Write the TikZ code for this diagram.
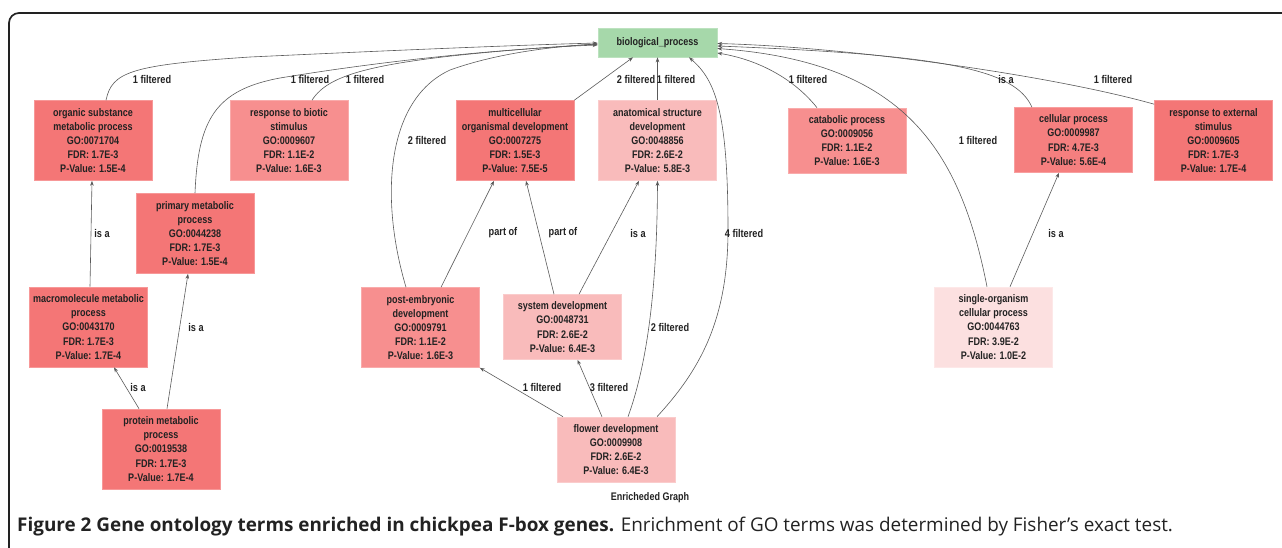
\documentclass[tikz,border=0pt]{standalone}
\usepackage{fontspec}
\setmainfont{Liberation Sans}
\newfontfamily\gofont[FakeStretch=0.82]{Liberation Sans}
\newfontfamily\capfont{Open Sans}
\usetikzlibrary{arrows.meta,calc}
\definecolor{bpgreen}{HTML}{A6D8AA}
\definecolor{redA}{HTML}{F47676}
\definecolor{redB}{HTML}{F57F7F}
\definecolor{redC}{HTML}{F78F8F}
\definecolor{pinkA}{HTML}{F9BBBB}
\definecolor{paleA}{HTML}{FCE0E0}
\definecolor{edgegray}{HTML}{5A5A5A}
\definecolor{txt}{HTML}{222222}
\begin{document}
\begin{tikzpicture}[x=1pt,y=-1pt,
  gobox/.style={rectangle, minimum width=118pt, minimum height=80pt, inner sep=0pt, align=center,
    font=\gofont\bfseries\fontsize{11}{14.2}\selectfont, text=txt, fill=#1, draw=#1!75!white, line width=0.6pt},
  shortbox/.style={gobox=#1, minimum height=65pt},
  conn/.style={draw=edgegray, line width=0.6pt, -{Stealth[length=5pt,width=3.6pt]}},
  lbl/.style={font=\gofont\bfseries\fontsize{11.2}{12}\selectfont, inner sep=0pt, text=txt}
]
\useasboundingbox (0,0) rectangle (1282,547);
\begin{scope}
  \clip (0,0) rectangle (1282,547);
  \draw[rounded corners=10pt, line width=1.7pt, txt] (9,13) rectangle (1300,575);
\end{scope}

% nodes
\node[gobox=bpgreen, minimum height=29pt, minimum width=119pt] (bp) at (657.5,42.5) {biological\_process};
\node[gobox=redA] (organic) at (93,140.5) {organic substance\\metabolic process\\GO:0071704\\FDR: 1.7E-3\\P-Value: 1.5E-4};
\node[gobox=redC] (biotic) at (289,140.5) {response to biotic\\stimulus\\GO:0009607\\FDR: 1.1E-2\\P-Value: 1.6E-3};
\node[gobox=redA] (multi) at (515,140.5) {multicellular\\organismal development\\GO:0007275\\FDR: 1.5E-3\\P-Value: 7.5E-5};
\node[gobox=pinkA] (anat) at (657.5,140.5) {anatomical structure\\development\\GO:0048856\\FDR: 2.6E-2\\P-Value: 5.8E-3};
\node[shortbox=redC] (catab) at (847,140.5) {catabolic process\\GO:0009056\\FDR: 1.1E-2\\P-Value: 1.6E-3};
\node[shortbox=redB] (cell) at (1073.5,140) {cellular process\\GO:0009987\\FDR: 4.7E-3\\P-Value: 5.6E-4};
\node[gobox=redA] (ext) at (1213.5,140.5) {response to external\\stimulus\\GO:0009605\\FDR: 1.7E-3\\P-Value: 1.7E-4};
\node[gobox=redA] (prim) at (195,233.5) {primary metabolic\\process\\GO:0044238\\FDR: 1.7E-3\\P-Value: 1.5E-4};
\node[gobox=redA] (macro) at (88.5,327) {macromolecule metabolic\\process\\GO:0043170\\FDR: 1.7E-3\\P-Value: 1.7E-4};
\node[gobox=redC] (post) at (420.5,327.5) {post-embryonic\\development\\GO:0009791\\FDR: 1.1E-2\\P-Value: 1.6E-3};
\node[shortbox=pinkA] (sys) at (562.5,327) {system development\\GO:0048731\\FDR: 2.6E-2\\P-Value: 6.4E-3};
\node[gobox=paleA] (single) at (993.5,327) {single-organism\\cellular process\\GO:0044763\\FDR: 3.9E-2\\P-Value: 1.0E-2};
\node[gobox=redA] (prot) at (161,449) {protein metabolic\\process\\GO:0019538\\FDR: 1.7E-3\\P-Value: 1.7E-4};
\node[shortbox=pinkA] (flower) at (616,449.5) {flower development\\GO:0009908\\FDR: 2.6E-2\\P-Value: 6.4E-3};

% connectors to biological_process (left side)
\draw[conn] ([xshift=13pt]organic.north) .. controls (112,72) and (130,65) .. (250,57) .. controls (400,50) and (520,45) .. ([yshift=-0.5pt]bp.west);
\draw[conn] (prim.north) .. controls (198,120) and (215,90) .. (280,78) .. controls (400,58) and (520,48) .. ([yshift=-2.5pt]bp.west);
\draw[conn] ([xshift=23pt]biotic.north) .. controls (330,72) and (380,58) .. ([yshift=-1.5pt]bp.west);
\draw[conn] ([xshift=-14.5pt]post.north) .. controls (380,200) and (385,100) .. (450,70) .. controls (500,52) and (560,46) .. ([yshift=-1.5pt]bp.west);
\draw[conn] (multi.north east) -- ([xshift=-24.5pt]bp.south);
\draw[conn] (anat.north) -- (bp.south);
\draw[conn] ([xshift=41pt]flower.north) .. controls (700,370) and (728,320) .. (728,230) .. controls (728,110) and (715,80) .. ([xshift=31.5pt]bp.south);
% right side
\draw[conn] ([xshift=-30pt]catab.north) .. controls (795,80) and (760,60) .. ([yshift=-10.5pt]bp.east);
\draw[conn] ([xshift=-6.5pt]single.north) .. controls (960,150) and (905,62) .. ([yshift=-6pt]bp.east);
\draw[conn] ([xshift=-41.5pt]cell.north) .. controls (1015,70) and (950,55) .. ([yshift=-3.5pt]bp.east);
\draw[conn] ([yshift=-4pt]ext.north west) .. controls (1050,75) and (850,47) .. ([yshift=-1pt]bp.east);

% lower connectors
\draw[conn] ([xshift=1.5pt]macro.north) -- ([xshift=-1pt]organic.south);
\draw[conn] ([xshift=-22pt]prot.north) -- ([xshift=25.5pt]macro.south);
\draw[conn] ([xshift=6pt]prot.north) -- ([xshift=-7pt]prim.south);
\draw[conn] ([xshift=20.5pt]post.north) -- ([xshift=-21pt]multi.south);
\draw[conn] ([xshift=-8.5pt]sys.north) -- ([xshift=11pt]multi.south);
\draw[conn] ([xshift=16.5pt]sys.north) -- ([xshift=-18.5pt]anat.south);
\draw[conn] ([xshift=-53pt]flower.north) -- (post.south east);
\draw[conn] ([xshift=-14pt]flower.north) -- ([xshift=15pt]sys.south);
\draw[conn] ([xshift=12pt]flower.north) .. controls (645,370) and (657,300) .. (anat.south);
\draw[conn] ([xshift=16.5pt]single.north) -- ([xshift=-14.5pt]cell.south);

% edge labels
\node[lbl] (l1) at (152,79) {1 filtered};
\node[lbl] (l2) at (310,79) {1 filtered};
\node[lbl] (l3) at (365,79) {1 filtered};
\node[lbl] (l4) at (427,140) {2 filtered};
\node[lbl] (l5) at (636,79) {2 filtered};
\node[lbl] (l6) at (676,79) {1 filtered};
\node[lbl] (l7) at (808,79) {1 filtered};
\node[lbl] (l8) at (1006,79) {is a};
\node[lbl] (l9) at (1113,79) {1 filtered};
\node[lbl] (l10) at (978,140) {1 filtered};
\node[lbl] (l11) at (102,233) {is a};
\node[lbl] (l12) at (196,327) {is a};
\node[lbl] (l13) at (138,387) {is a};
\node[lbl] (l14) at (503,233) {part of};
\node[lbl] (l15) at (563,233) {part of};
\node[lbl] (l16) at (638,233) {is a};
\node[lbl] (l17) at (744,233) {4 filtered};
\node[lbl] (l18) at (670,327) {2 filtered};
\node[lbl] (l19) at (1056,233) {is a};
\node[lbl] (l20) at (542,387) {1 filtered};
\node[lbl] (l21) at (609,387) {3 filtered};
\node[lbl, font=\gofont\bfseries\fontsize{11}{12}\selectfont] (title) at (650,498) {Enricheded Graph};

% caption
\node[anchor=base west, inner sep=0pt, text=txt, font=\capfont\fontsize{18.9}{22}\selectfont] (cap) at (17,531)
  {\textbf{Figure 2 Gene ontology terms enriched in chickpea F-box genes.} Enrichment of GO terms was determined by Fisher’s exact test.};
\end{tikzpicture}
\end{document}
